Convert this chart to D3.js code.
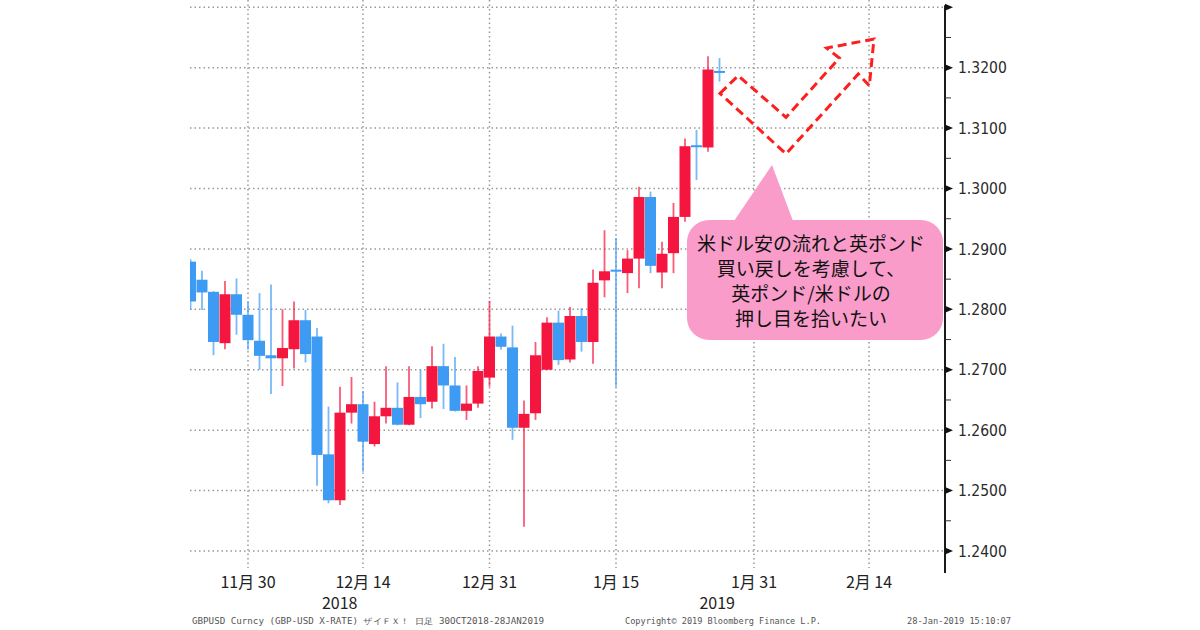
<!DOCTYPE html>
<html><head><meta charset="utf-8">
<script src="https://cdn.jsdelivr.net/npm/d3@7"></script>
<style>html,body{margin:0;padding:0;background:#fff;} svg{display:block}</style>
</head><body><svg id="c" width="1200" height="630"></svg>
<script>
// ---- data (GBPUSD daily candles) ----
const dates = ["2018-11-23","2018-11-26","2018-11-27","2018-11-28","2018-11-29","2018-11-30",
"2018-12-03","2018-12-04","2018-12-05","2018-12-06","2018-12-07","2018-12-10","2018-12-11","2018-12-12",
"2018-12-13","2018-12-14","2018-12-17","2018-12-18","2018-12-19","2018-12-20","2018-12-21","2018-12-24",
"2018-12-25","2018-12-26","2018-12-27","2018-12-28","2018-12-31","2019-01-01","2019-01-02","2019-01-03",
"2019-01-04","2019-01-07","2019-01-08","2019-01-09","2019-01-10","2019-01-11","2019-01-14","2019-01-15",
"2019-01-16","2019-01-17","2019-01-18","2019-01-21","2019-01-22","2019-01-23","2019-01-24","2019-01-25","2019-01-28"];
const open  = [1.2879,1.2849,1.2829,1.2744,1.2825,1.2791,1.2748,1.2724,1.2719,1.2734,1.2782,1.2755,1.2560,1.2484,
1.2629,1.2643,1.2577,1.2623,1.2637,1.2609,1.2655,1.2647,1.2706,1.2674,1.2632,1.2644,1.2687,1.2755,1.2737,1.2604,
1.2628,1.2700,1.2778,1.2717,1.2789,1.2746,1.2848,1.2864,1.2860,1.2884,1.2986,1.2861,1.2893,1.2953,1.3070,1.3068,1.3193];
const high  = [1.2883,1.2864,1.2830,1.2847,1.2851,1.2813,1.2827,1.2841,1.2800,1.2813,1.2799,1.2769,1.2639,1.2672,
1.2688,1.2665,1.2647,1.2706,1.2679,1.2706,1.2700,1.2739,1.2743,1.2721,1.2674,1.2706,1.2814,1.2760,1.2773,1.2649,
1.2746,1.2787,1.2798,1.2804,1.2802,1.2866,1.2931,1.2918,1.2898,1.3003,1.2995,1.2912,1.2976,1.3083,1.3097,1.3219,1.3216];
const low   = [1.2799,1.2799,1.2724,1.2734,1.2758,1.2733,1.2700,1.2660,1.2673,1.2702,1.2712,1.2508,1.2479,1.2476,
1.2611,1.2531,1.2573,1.2611,1.2608,1.2608,1.2620,1.2636,1.2635,1.2631,1.2617,1.2637,1.2672,1.2733,1.2584,1.2440,
1.2617,1.2699,1.2708,1.2712,1.2730,1.2710,1.2820,1.2672,1.2827,1.2835,1.2860,1.2835,1.2860,1.2945,1.3014,1.3061,1.3177];
const close = [1.2813,1.2828,1.2746,1.2825,1.2791,1.2749,1.2723,1.2719,1.2736,1.2782,1.2726,1.2559,1.2484,1.2629,
1.2643,1.2581,1.2623,1.2637,1.2609,1.2655,1.2643,1.2706,1.2674,1.2632,1.2644,1.2698,1.2755,1.2738,1.2604,1.2627,
1.2724,1.2778,1.2716,1.2789,1.2746,1.2844,1.2863,1.2861,1.2884,1.2986,1.2872,1.2892,1.2953,1.3070,1.3068,1.3197,1.3192];

const xTickDates  = ["2018-11-30","2018-12-14","2018-12-31","2019-01-15","2019-01-31","2019-02-14"];
const xTickLabels = ["11月 30","12月 14","12月 31","1月 15","1月 31","2月 14"];
const yearLabels  = ["2018","2019"];
const yearBreak   = "2018-12-31";
const yTickValues = [1.24,1.25,1.26,1.27,1.28,1.29,1.30,1.31,1.32,1.33];
const yLabelValues= [1.24,1.25,1.26,1.27,1.28,1.29,1.30,1.31,1.32];
const yMinorValues= [1.245,1.255,1.265,1.275,1.285,1.295,1.305,1.315,1.325];

const calloutLines = ["米ドル安の流れと英ポンド","買い戻しを考慮して、","英ポンド/米ドルの","押し目を拾いたい"];
const footLeft  = "GBPUSD Curncy (GBP-USD X-RATE) ザイＦＸ！ 日足 30OCT2018-28JAN2019";
const footMid   = "Copyright© 2019 Bloomberg Finance L.P.";
const footRight = "28-Jan-2019 15:10:07";

// forecast arrow, in (business-day index, price)
const arrowIdx   = [46.04,47.63,51.78,56.42,55.32,59.43,59.03,58.07,51.78];
const arrowPrice = [1.31575,1.31868,1.31178,1.3216,1.32326,1.32474,1.31702,1.31896,1.30574];

// ---- helpers ----
const origin = new Date(dates[0] + "T00:00:00Z");
function bdIndex(s){
  const d = new Date(s + "T00:00:00Z");
  let n = 0; const t = new Date(origin);
  while (t < d){ t.setUTCDate(t.getUTCDate()+1); const w = t.getUTCDay(); if (w!==0 && w!==6) n++; }
  return n;
}

const svg = d3.select("#c");
const L = 190, R = 945, step = 11.5, first = 190.5;
const x = d3.scaleLinear().domain([(L-first)/step, (R-first)/step]).range([L, R]);
const y = d3.scaleLinear().domain([1.24, 1.32]).range([551, 67.7]);

// clip
svg.append("defs").append("clipPath").attr("id","plot")
  .append("rect").attr("x",L).attr("y",0).attr("width",R-L).attr("height",570);

const grid = svg.append("g").attr("stroke","#999").attr("stroke-width",1.5).attr("stroke-dasharray","1.5,3");
grid.selectAll("line.h").data(yTickValues).join("line").attr("class","h")
  .attr("x1",L).attr("x2",R-2).attr("y1",d=>y(d)).attr("y2",d=>y(d));
grid.selectAll("line.v").data(xTickDates).join("line").attr("class","v")
  .attr("x1",d=>x(bdIndex(d))).attr("x2",d=>x(bdIndex(d))).attr("y1",0).attr("y2",568);

// candles
const RED = "#f5163f", BLUE = "#3e9bf4";
const candles = dates.map((d,i)=>({i:bdIndex(d), o:open[i], h:high[i], l:low[i], c:close[i]}));
const cg = svg.append("g").attr("clip-path","url(#plot)");
cg.selectAll("line.wick").data(candles).join("line").attr("class","wick")
  .attr("x1",d=>x(d.i)).attr("x2",d=>x(d.i))
  .attr("y1",d=>y(d.h)).attr("y2",d=>y(d.l))
  .attr("stroke",d=>d.c>=d.o?RED:BLUE).attr("stroke-width",1.8).attr("stroke-opacity",0.7);
const bw = 11;
cg.selectAll("rect.body").data(candles).join("rect").attr("class","body")
  .attr("x",d=>x(d.i)-bw/2).attr("width",bw)
  .attr("y",d=>Math.min(y(d.o),y(d.c)) - (Math.abs(y(d.o)-y(d.c))<2?1:0))
  .attr("height",d=>Math.max(2,Math.abs(y(d.o)-y(d.c))))
  .attr("fill",d=>d.c>=d.o?RED:BLUE);

// right axis
const ax = svg.append("g");
ax.append("line").attr("x1",R).attr("x2",R).attr("y1",y(1.33)-2).attr("y2",573)
  .attr("stroke","#1a1a1a").attr("stroke-width",2);
ax.selectAll("path.maj").data(yTickValues).join("path").attr("class","maj")
  .attr("d",d=>`M${R},${y(d)-3.5}L${R+8},${y(d)}L${R},${y(d)+3.5}Z`).attr("fill","#111");
ax.selectAll("line.min").data(yMinorValues).join("line").attr("class","min")
  .attr("x1",R).attr("x2",R+6).attr("y1",d=>y(d)).attr("y2",d=>y(d))
  .attr("stroke","#333").attr("stroke-width",1);
ax.selectAll("text").data(yLabelValues).join("text")
  .attr("x",R+13).attr("y",d=>y(d)).attr("dy","0.36em")
  .attr("font-family","'DejaVu Sans Condensed','DejaVu Sans',sans-serif").attr("font-size",15.5)
  .attr("fill","#2a2a2a").text(d=>d3.format(".4f")(d));

// bottom labels
const xl = svg.append("g").attr("font-family","'Noto Sans CJK JP',sans-serif").attr("font-size",16).attr("fill","#222").attr("text-anchor","middle");
xl.selectAll("text.t").data(xTickDates).join("text").attr("class","t")
  .attr("x",d=>x(bdIndex(d))).attr("y",588).text((d,i)=>xTickLabels[i]);
const yb = x(bdIndex(yearBreak));
xl.append("text").attr("x",(L+yb)/2).attr("y",609).text(yearLabels[0]);
xl.append("text").attr("x",(yb+R)/2).attr("y",609).text(yearLabels[1]);

// footer
const ft = svg.append("g").attr("font-family","'DejaVu Sans Mono',monospace").attr("font-size",8).attr("fill","#555");
ft.append("text").attr("x",192).attr("y",624).attr("textLength",352).attr("lengthAdjust","spacingAndGlyphs").text(footLeft);
ft.append("text").attr("x",625).attr("y",624).attr("textLength",196).attr("lengthAdjust","spacingAndGlyphs").text(footMid);
ft.append("text").attr("x",907).attr("y",624).attr("textLength",104).attr("lengthAdjust","spacingAndGlyphs").text(footRight);

// forecast arrow
const pts = arrowIdx.map((v,i)=>[x(v), y(arrowPrice[i])]);
svg.append("path").attr("d", d3.line()(pts) + "Z")
  .attr("fill","none").attr("stroke","#ff1e1e").attr("stroke-width",3)
  .attr("stroke-dasharray","9,5").attr("stroke-linejoin","miter");

// callout
const cb = {x0:687, y0:220, x1:943, y1:340, r:22, px0:734, px1:793, ax:772, ay:165};
const co = svg.append("g");
co.append("rect").attr("x",cb.x0).attr("y",cb.y0).attr("width",cb.x1-cb.x0).attr("height",cb.y1-cb.y0)
  .attr("rx",cb.r).attr("fill","#f99cca");
co.append("path").attr("d",`M${cb.px0},${cb.y0+1}L${cb.ax},${cb.ay}L${cb.px1},${cb.y0+1}Z`).attr("fill","#f99cca");
co.selectAll("text").data(calloutLines).join("text")
  .attr("x",811).attr("y",(d,i)=>251+i*25).attr("text-anchor","middle")
  .attr("font-family","'Noto Sans CJK JP',sans-serif").attr("font-size",19).attr("fill","#111")
  .text(d=>d);
</script></body></html>
